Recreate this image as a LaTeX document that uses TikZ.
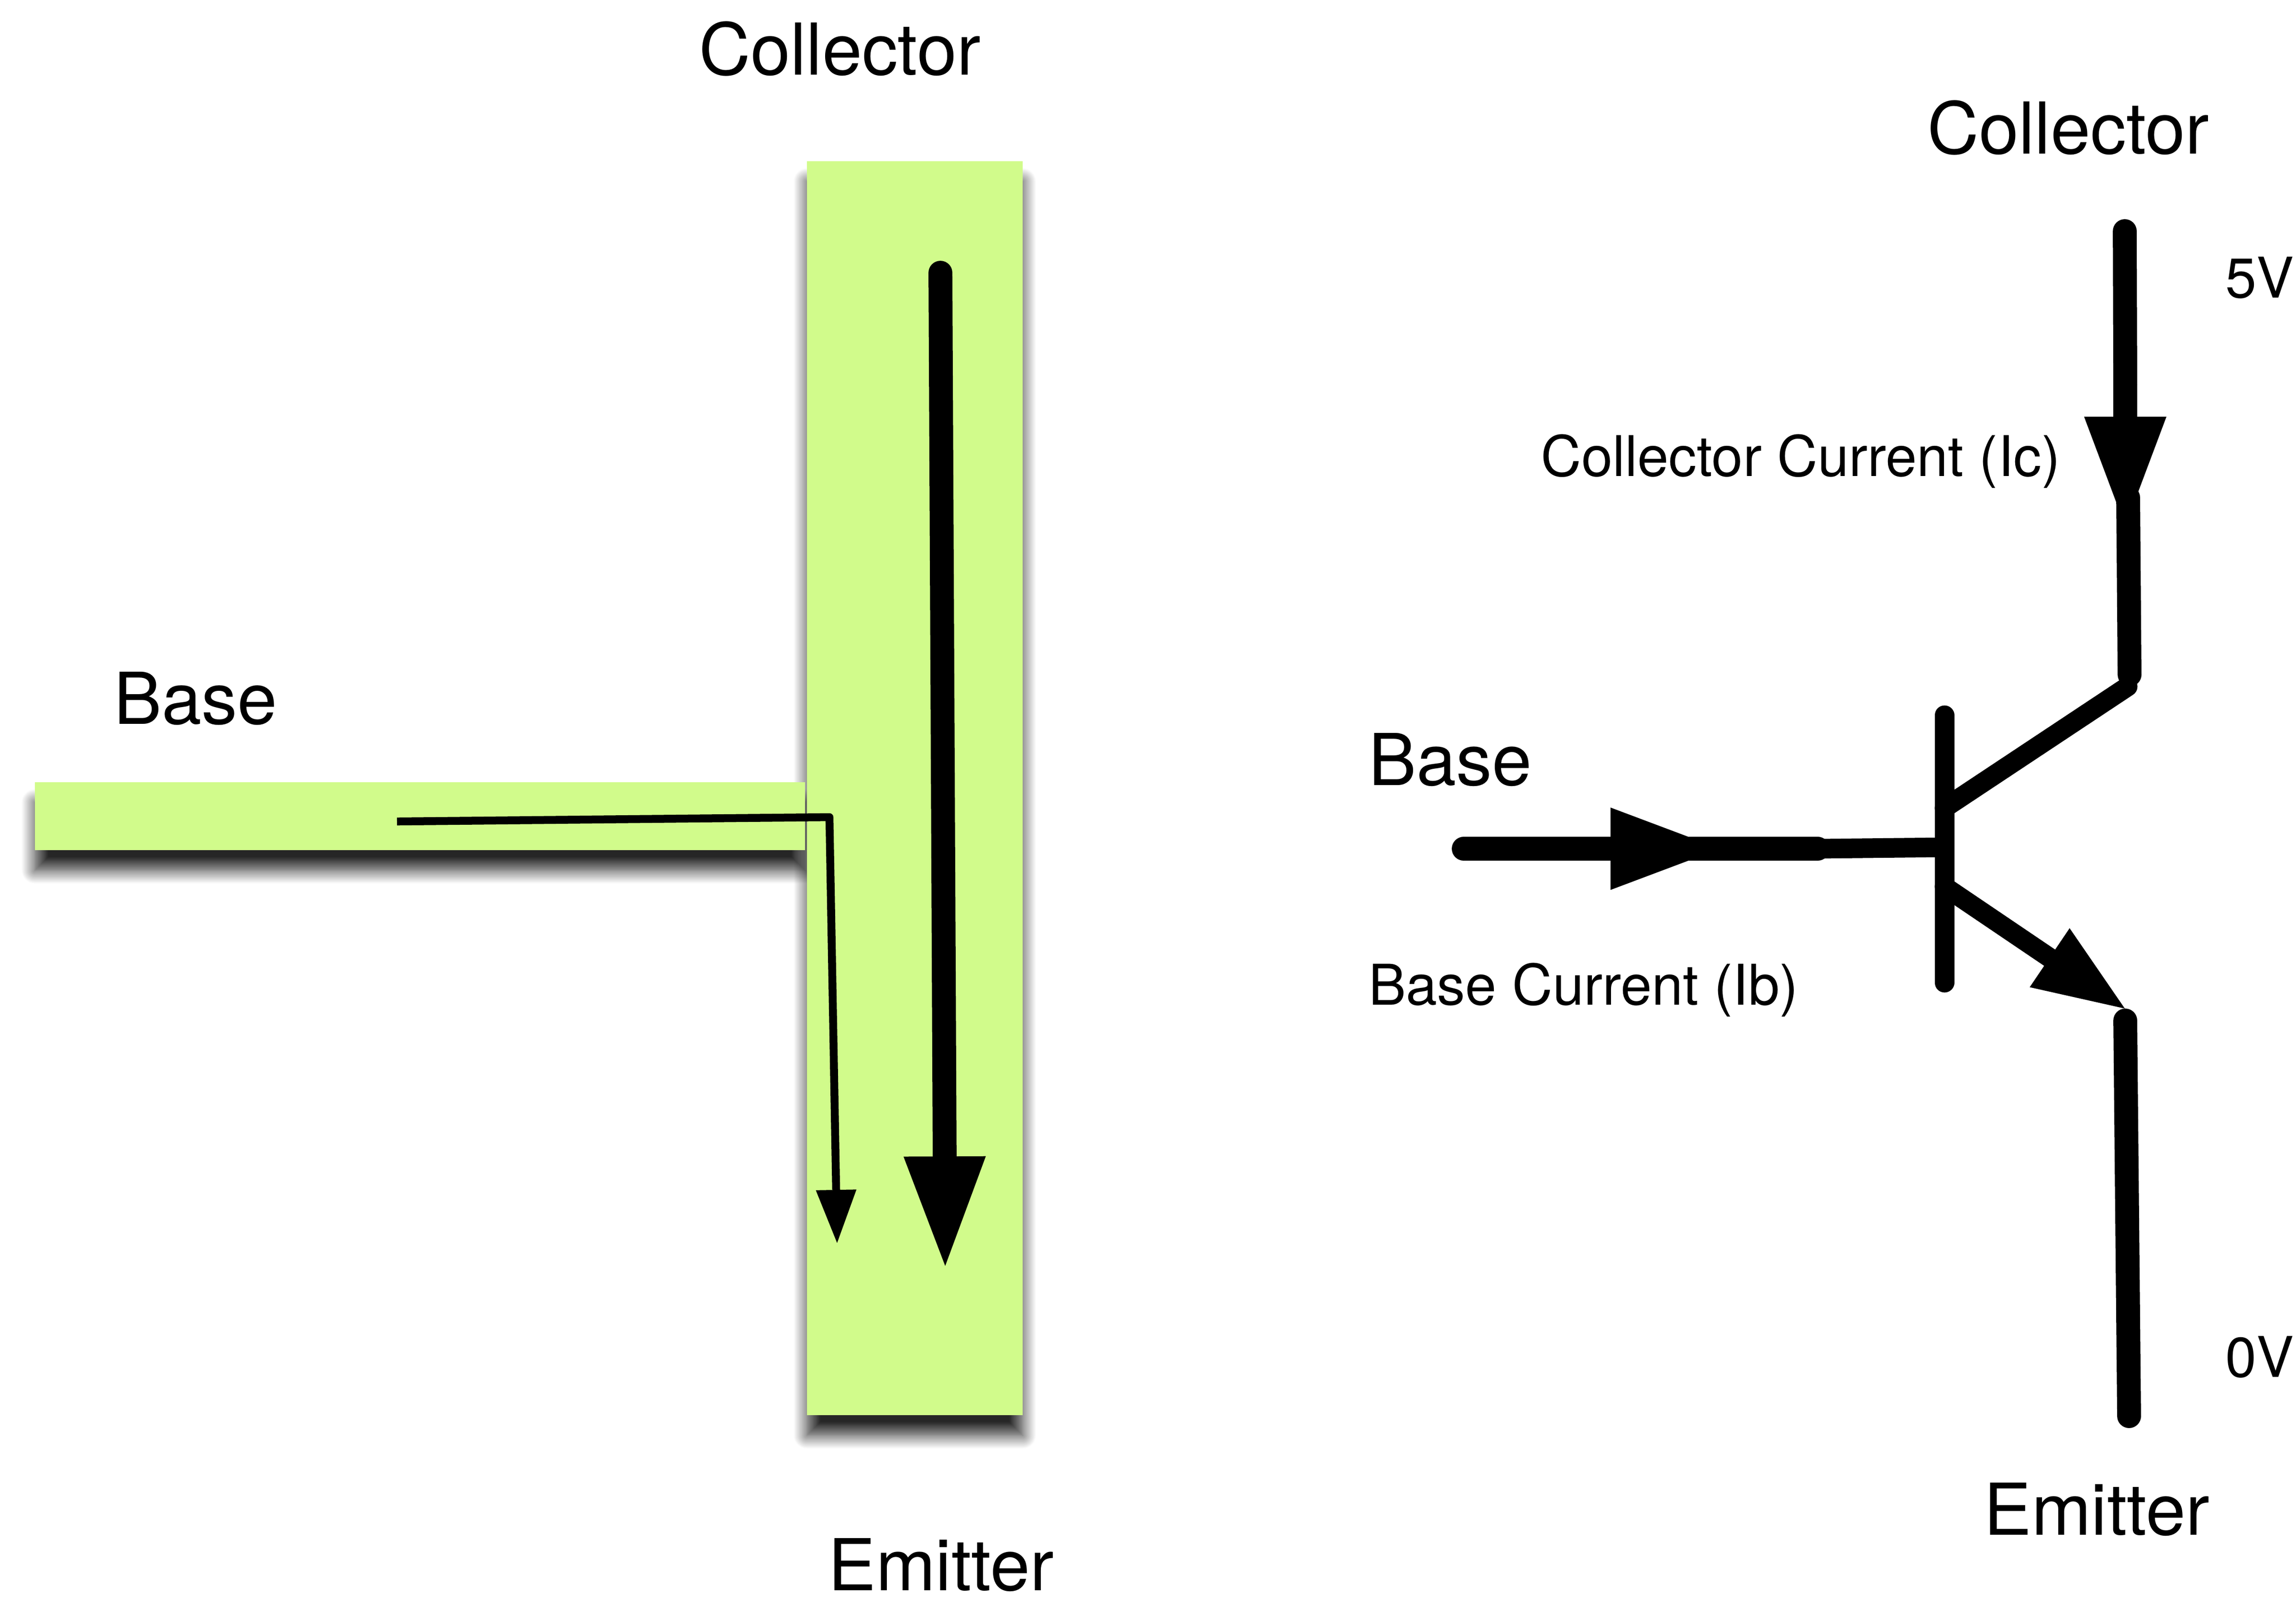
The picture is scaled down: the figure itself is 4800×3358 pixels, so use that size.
\documentclass[tikz,border=0pt]{standalone}
\usepackage{fontspec}
\setmainfont{TeX Gyre Heros}
\usetikzlibrary{arrows.meta,shadows.blur}
\definecolor{barfill}{HTML}{D1FB8B}
\tikzset{
  bigtext/.style={anchor=base west,inner sep=0pt,font=\fontsize{21.3}{25}\selectfont},
  smalltext/.style={anchor=base west,inner sep=0pt,font=\fontsize{16.7}{20}\selectfont},
  barshadow/.style={blur shadow={shadow xshift=0pt,shadow yshift=-6pt,shadow blur radius=4pt,shadow opacity=85,shadow blur steps=16}},
  wire/.style={line width=7.1pt,line cap=round,line join=round},
  lead/.style={line width=5.84pt,line cap=round,line join=round},
  thinwire/.style={line width=2.35pt,line join=round},
  bigtip/.style={-{Triangle[length=32.6pt,width=24.5pt,line width=0pt,fill=black]}},
  leadtip/.style={-{Triangle[length=27pt,width=21.2pt,line width=0pt,fill=black]}},
  smalltip/.style={-{Triangle[length=15.8pt,width=12.1pt,line width=0pt,fill=black]}}
}
\begin{document}
\begin{tikzpicture}[x=0.005cm,y=-0.005cm]
   \useasboundingbox (0,0) rectangle (4800,3358);
   % left: the two bars
   \coordinate (bar_c_nw) at (1687,337);
   \coordinate (bar_c_se) at (2138,2958);
   \coordinate (bar_b_nw) at (73,1635);
   \coordinate (bar_b_se) at (1683,1777);
   \path[barshadow] (bar_c_nw) rectangle (bar_c_se);
   \path[barshadow] (bar_b_nw) rectangle (bar_b_se);
   \fill[barfill] (bar_c_nw) rectangle (bar_c_se);
   \fill[barfill] (bar_b_nw) rectangle (bar_b_se);
   \coordinate (i_c_a) at (1966,570);
   \coordinate (i_c_b) at (1976,2646);
   \coordinate (i_b_a) at (830,1717);
   \coordinate (i_b_k) at (1734,1708);
   \coordinate (i_b_b) at (1750,2598);
   \draw[wire,bigtip] (i_c_a) -- (i_c_b);
   \draw[thinwire,smalltip] (i_b_a) -- (i_b_k) -- (i_b_b);
   \node[bigtext] (l_collector) at (1460,156) {Collector};
   \node[bigtext] (l_base) at (237,1513) {Base};
   \node[bigtext] (l_emitter) at (1730,3324) {Emitter};
   % right: the transistor symbol
   \coordinate (bar_top) at (4065,1495);
   \coordinate (bar_bot) at (4065,2054);
   \coordinate (bar_in) at (4065,1771);
   \coordinate (bar_col) at (4065,1689);
   \coordinate (bar_emi) at (4065,1853);
   \coordinate (col_top) at (4442,483);
   \coordinate (col_mid) at (4443,805);
   \coordinate (col_tip) at (4443,1100);
   \coordinate (col_low) at (4449,1040);
   \coordinate (col_end) at (4452,1410);
   \coordinate (col_knee) at (4448,1435);
   \coordinate (emi_tip) at (4442,2108);
   \coordinate (emi_top) at (4443,2133);
   \coordinate (emi_end) at (4451,2960);
   \coordinate (base_a) at (3060,1774);
   \coordinate (base_tip) at (3596,1774);
   \coordinate (base_low) at (3530,1774);
   \coordinate (base_b) at (3800,1774);
   \draw[lead] (bar_top) -- (bar_bot);
   \draw[lead] (bar_col) -- (col_knee);
   \draw[lead,leadtip] (bar_emi) -- (emi_tip);
   \draw[lead] (base_b) -- (bar_in);
   \draw[wire,bigtip] (base_a) -- (base_tip);
   \draw[wire] (base_low) -- (base_b);
   \draw[wire] (col_top) -- (col_mid);
   \draw[wire,bigtip] (col_mid) -- (col_tip);
   \draw[wire] (col_low) -- (col_end);
   \draw[wire] (emi_top) -- (emi_end);
   \node[bigtext] (r_collector) at (4028,321) {Collector};
   \node[bigtext] (r_base) at (2860,1641) {Base};
   \node[bigtext] (r_emitter) at (4146,3208) {Emitter};
   \node[smalltext] (r_ic) at (3220,995) {Collector Current (Ic)};
   \node[smalltext] (r_ib) at (2860,2100) {Base Current (Ib)};
   \node[smalltext] (r_5v) at (4651,622) {5V};
   \node[smalltext] (r_0v) at (4651,2878) {0V};
\end{tikzpicture}
\end{document}
